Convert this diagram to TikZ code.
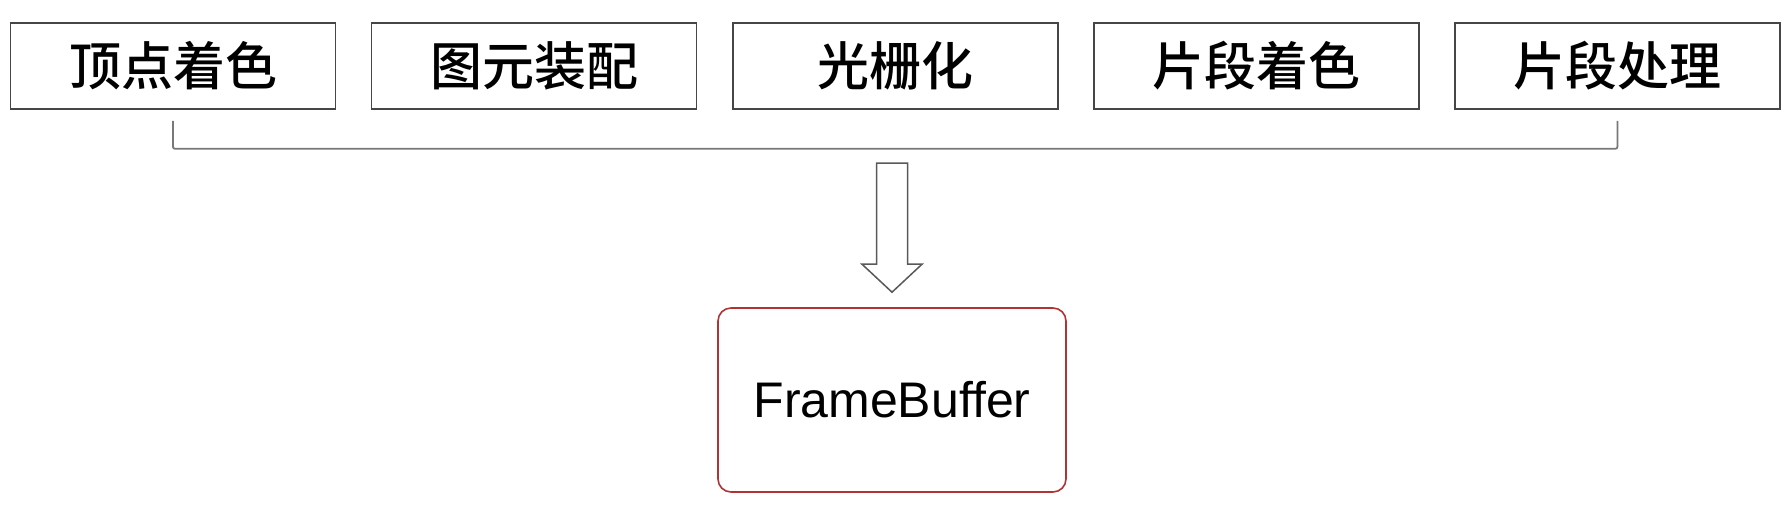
\documentclass[tikz,border=0pt]{standalone}
\usepackage{fontspec}
\setmainfont{Liberation Sans}
\newfontfamily\cjk{Noto Sans CJK SC}[UprightFont=* Medium]
\usepackage{xcolor}
\usepackage{tikz}
\usetikzlibrary{positioning, calc}

\definecolor{boxline}{RGB}{70,70,70}
\definecolor{brkline}{RGB}{120,120,120}
\definecolor{fbred}{RGB}{176,52,52}

\begin{document}
\begin{tikzpicture}[
  x=1pt, y=-1pt,
  stage/.style={draw=boxline, line width=1.6pt, minimum width=325pt,
    minimum height=86pt, inner sep=0pt, align=center,
    font=\cjk\fontsize{52}{56}\selectfont},
  fbuf/.style={draw=fbred, line width=1.6pt, rounded corners=13pt,
    minimum width=348pt, minimum height=184pt, inner sep=0pt,
    font=\fontsize{50}{54}\selectfont},
  brace/.style={draw=brkline, line width=1.8pt, rounded corners=2pt},
  hollowarrow/.style={draw=boxline!90, line width=1.5pt, fill=white, line join=miter},
]
  \useasboundingbox (0,0) rectangle (1790,506);

  % pipeline stages, left to right
  \node[stage] (b1) at (173,66) {顶点着色};
  \node[stage, right=34.5pt of b1] (b2) {图元装配};
  \node[stage, right=34.5pt of b2] (b3) {光栅化};
  \node[stage, right=34.5pt of b3] (b4) {片段着色};
  \node[stage, right=34.5pt of b4] (b5) {片段处理};

  % everything ends up in the frame buffer
  \node[fbuf] (fb) at (892,400) {FrameBuffer};

  % bracket under the stages
  \draw[brace] ([yshift=-11pt]b1.south) |- ([yshift=-39pt]b5.south) -- ([yshift=-11pt]b5.south);

  % hollow block arrow down to the frame buffer
  \coordinate (atail) at (fb.north |- 0,163);
  \coordinate (atip) at ([yshift=15pt]fb.north);
  \draw[hollowarrow] ([xshift=-15.5pt]atail) -- ([xshift=-15.5pt,yshift=28pt]atip)
    -- ([xshift=-30pt,yshift=28pt]atip) -- (atip) -- ([xshift=30pt,yshift=28pt]atip)
    -- ([xshift=15.5pt,yshift=28pt]atip) -- ([xshift=15.5pt]atail) -- cycle;
\end{tikzpicture}
\end{document}
